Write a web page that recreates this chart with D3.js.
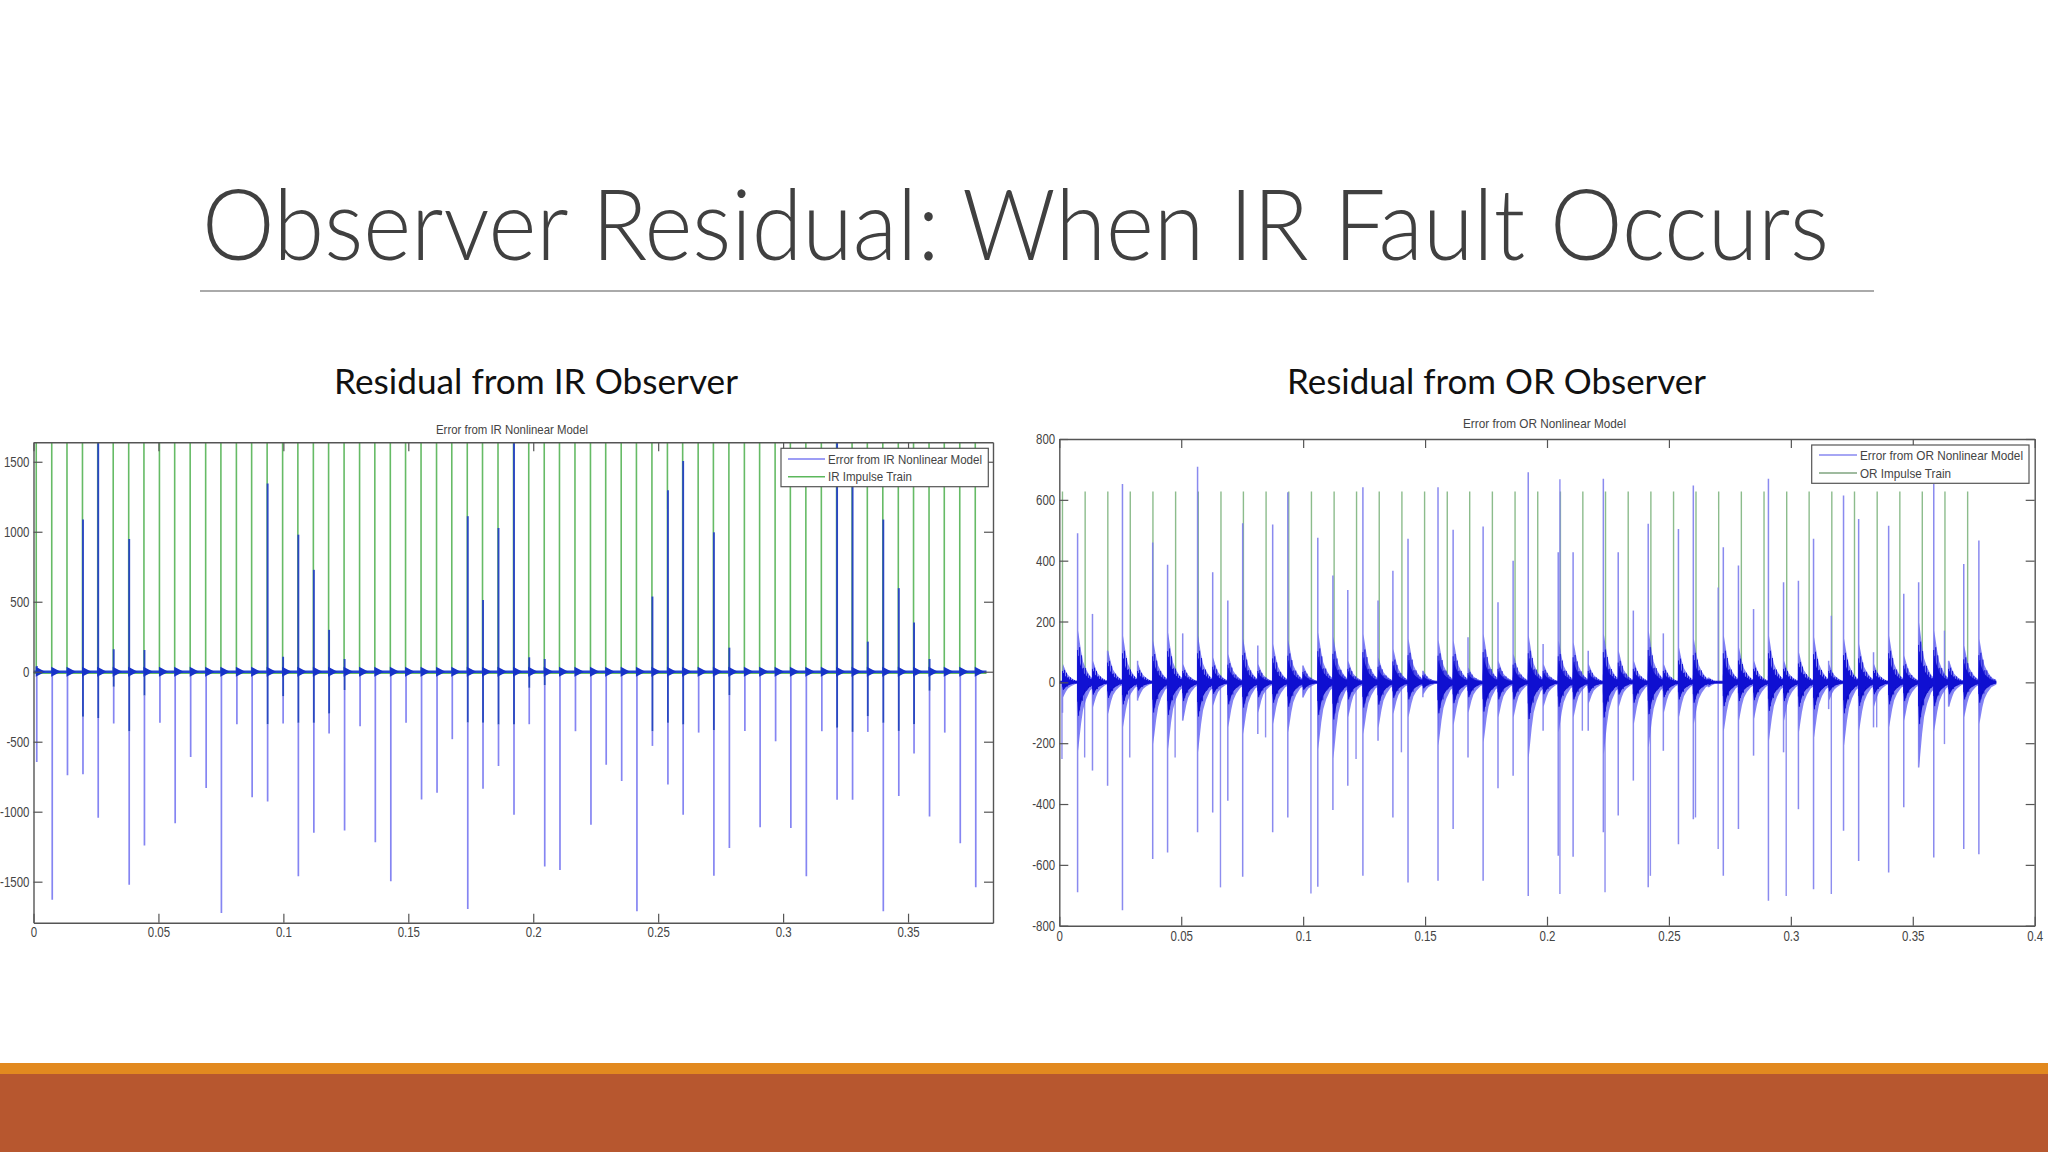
<!DOCTYPE html>
<html><head><meta charset="utf-8">
<script src="https://cdn.jsdelivr.net/npm/d3@7"></script>
<style>body{margin:0;background:#fff}svg{display:block}</style>
</head><body>
<svg id="s" width="2048" height="1152"></svg>
<script>
// ---------- DATA ----------
// IR fault impulse instants (s) – shared by both residual signals
const irTimes = [0.0011,0.0073,0.0134,0.0196,0.0257,0.0319,0.0381,0.0442,0.0504,0.0565,
0.0627,0.0689,0.0750,0.0812,0.0873,0.0935,0.0997,0.1058,0.1120,0.1181,
0.1243,0.1305,0.1366,0.1428,0.1489,0.1551,0.1613,0.1674,0.1736,0.1797,
0.1859,0.1921,0.1982,0.2044,0.2105,0.2167,0.2229,0.2290,0.2352,0.2413,
0.2475,0.2537,0.2598,0.2660,0.2721,0.2783,0.2845,0.2906,0.2968,0.3029,
0.3091,0.3153,0.3214,0.3276,0.3337,0.3399,0.3461,0.3522,0.3584,0.3645,
0.3707,0.3769];
const irImpulseHeight = 2000;
// Left: error from IR nonlinear model at each impulse
const irErrMax = [40,0,0,1087,1700,160,948,155,0,0,0,0,0,0,0,1345,107,979,728,299,
91,0,0,0,0,0,0,0,1111,513,1027,1700,103,91,0,0,0,0,0,0,
537,1297,1505,0,996,172,0,0,0,0,0,0,1700,1337,215,1087,597,351,91,0,0,0];
const irErrDarkMin = [0,0,0,-322,-330,-107,-425,-170,0,0,0,0,0,0,0,-375,-174,-365,-365,-299,
-131,0,0,0,0,0,0,0,-363,-365,-377,-377,-115,-96,0,0,0,0,0,0,
-425,-365,-377,0,-418,-167,0,0,0,0,0,0,-400,-430,-318,-365,-423,-375,-136,0,0,0];
const irErrMin = [-645,-1629,-740,-733,-1044,-370,-1521,-1242,-365,-1082,-609,-831,-1724,-375,-896,-927,-370,-1462,-1151,-442,
-1134,-389,-1218,-1497,-365,-912,-865,-482,-1696,-836,-673,-1022,-375,-1392,-1416,-425,-1094,-664,-781,-1712,
-530,-805,-1022,-435,-1457,-1259,-423,-1111,-497,-1116,-1462,-425,-915,-915,-430,-1712,-888,-585,-1034,-435,-1225,-1540];
const signalEnd = 0.3814;

// Right: OR impulse train
const orTimes = [0.0013,0.0106,0.0199,0.0291,0.0384,0.0477,0.0570,0.0663,0.0755,0.0848,
0.0941,0.1034,0.1127,0.1219,0.1312,0.1405,0.1498,0.1591,0.1683,0.1776,
0.1869,0.1962,0.2055,0.2147,0.2240,0.2333,0.2426,0.2519,0.2611,0.2704,
0.2797,0.2890,0.2983,0.3075,0.3168,0.3261,0.3354,0.3447,0.3539,0.3632,0.3725];
const orImpulseHeight = 627;
const orSpikeUp = [0,0,0,0,0,0,0,0,0,0,0,0,0,0,0,0,0,0,0,0,0,0,668,0,0,0,0,0,0,312,0,0,0,0,219,0,0,0,0,170,0];
const orSpikeDn = [-252,-247,0,-247,0,-247,0,-674,0,-181,0,-694,0,-252,0,-230,0,0,0,0,0,0,-696,-159,-690,0,-636,0,-444,-548,0,0,-702,0,-696,0,-148,0,0,-203,0];
// Right: error from OR nonlinear model, bursts at IR instants
const orBurstUp = [0,490,225,104,652,71,460,387,161,709,362,269,523,121,519,625,55,475,351,304,
641,269,367,472,38,641,502,148,512,263,400,691,126,428,428,104,669,428,236,521,
161,504,647,16,444,384,241,669,329,334,472,71,614,537,99,515,291,329,652,71,389,466];
const orBurstEnvUp = [60,170,71,104,153,60,137,164,60,153,82,93,143,60,126,140,55,164,150,71,
159,82,110,143,38,140,137,49,159,71,93,153,60,137,132,60,159,104,71,170,
60,115,143,16,153,115,71,153,71,99,148,60,143,126,60,153,88,197,170,71,121,143];
const orBurstEnvDn = [-50,-225,-82,-104,-148,-55,-203,-219,-126,-230,-77,-148,-170,-100,-137,-164,-50,-219,-250,-115,
-170,-150,-104,-115,-40,-208,-140,-100,-197,-115,-115,-247,-80,-164,-115,-70,-236,-82,-137,-214,
-100,-115,-137,-16,-160,-126,-120,-192,-126,-164,-181,-60,-208,-159,-80,-148,-126,-280,-160,-80,-115,-137];
const orBurstDn = [-100,-690,-290,-340,-749,-60,-581,-559,-126,-493,-428,-389,-639,-170,-493,-444,-50,-672,-420,-340,
-636,-192,-444,-658,-49,-652,-482,-247,-652,-348,-307,-702,-159,-570,-573,-159,-493,-438,-323,-674,
-225,-532,-450,-16,-636,-482,-241,-718,-230,-417,-680,-88,-488,-587,-148,-625,-411,-280,-576,-80,-548,-565];

const leftXTicks = [0,0.05,0.1,0.15,0.2,0.25,0.3,0.35];
const leftYTicks = [-1500,-1000,-500,0,500,1000,1500];
const rightXTicks = [0,0.05,0.1,0.15,0.2,0.25,0.3,0.35,0.4];
const rightYTicks = [-800,-600,-400,-200,0,200,400,600,800];

// ---------- DRAW ----------
const svg = d3.select("#s");
const FONT = "'Liberation Sans', Arial, sans-serif";

// slide title
svg.append("text").attr("x",202).attr("y",260)
  .attr("font-family","Lato, 'Open Sans', sans-serif").attr("font-weight",300)
  .attr("font-size",98).attr("fill","#404040")
  .attr("textLength",1627).attr("lengthAdjust","spacingAndGlyphs")
  .text("Observer Residual: When IR Fault Occurs");
svg.append("line").attr("x1",200).attr("x2",1874).attr("y1",291).attr("y2",291)
  .attr("stroke","#aaaaaa").attr("stroke-width",2);

svg.append("text").attr("x",334).attr("y",394).attr("font-family","Lato, 'Open Sans', sans-serif")
  .attr("font-size",35).attr("fill","#111").attr("textLength",404).attr("lengthAdjust","spacingAndGlyphs")
  .text("Residual from IR Observer");
svg.append("text").attr("x",1287).attr("y",394).attr("font-family","Lato, 'Open Sans', sans-serif")
  .attr("font-size",35).attr("fill","#111").attr("textLength",419).attr("lengthAdjust","spacingAndGlyphs")
  .text("Residual from OR Observer");

// bottom bars
svg.append("rect").attr("x",0).attr("y",1063).attr("width",2048).attr("height",11).attr("fill","#E2891F");
svg.append("rect").attr("x",0).attr("y",1074).attr("width",2048).attr("height",78).attr("fill","#B7572F");

function frame(g, x, y, xTicks, yTicks, padX, padY) {
  const [x0,x1] = x.range(); const [y0,y1] = y.range();
  const axes = [];
  axes.push(g.append("g").attr("transform",`translate(0,${y0})`)
    .call(d3.axisBottom(x).tickValues(xTicks).tickSize(-9).tickSizeOuter(0).tickPadding(padX).tickFormat(d=>String(d))));
  axes.push(g.append("g").attr("transform",`translate(0,${y1})`)
    .call(d3.axisTop(x).tickValues(xTicks).tickSize(-9).tickSizeOuter(0).tickFormat("")));
  axes.push(g.append("g").attr("transform",`translate(${x0},0)`)
    .call(d3.axisLeft(y).tickValues(yTicks).tickSize(-9).tickSizeOuter(0).tickPadding(padY).tickFormat(d=>String(d))));
  axes.push(g.append("g").attr("transform",`translate(${x1},0)`)
    .call(d3.axisRight(y).tickValues(yTicks).tickSize(-9).tickSizeOuter(0).tickFormat("")));
  axes.forEach(a=>{
    a.selectAll(".domain").attr("stroke","#555").attr("stroke-width",1.4);
    a.selectAll(".tick line").attr("stroke","#555").attr("stroke-width",1.2);
    a.selectAll(".tick text").attr("font-family",FONT).attr("font-size",14).attr("fill","#444")
      .attr("transform","scale(0.82,1)");
  });
}

function legend(g, bx, by, bw, bh, items, textX, lx0, lx1) {
  g.append("rect").attr("x",bx).attr("y",by).attr("width",bw).attr("height",bh)
    .attr("fill","#fff").attr("stroke","#555").attr("stroke-width",1.2);
  items.forEach(it=>{
    g.append("line").attr("x1",lx0).attr("x2",lx1).attr("y1",it.y).attr("y2",it.y)
      .attr("stroke",it.color).attr("stroke-width",1.6);
    g.append("text").attr("x",textX).attr("y",it.y+4.5).attr("font-family",FONT).attr("font-size",13)
      .attr("fill","#444").attr("textLength",it.w).attr("lengthAdjust","spacingAndGlyphs").text(it.label);
  });
}

// ===== LEFT CHART =====
const xL = d3.scaleLinear().domain([0,0.384]).range([33.5,993]);
const yL = d3.scaleLinear().domain([-1793,1639]).range([922.7,442.3]);
const defs = svg.append("defs");
defs.append("clipPath").attr("id","clipL").append("rect")
  .attr("x",33.5).attr("y",442.3).attr("width",993-33.5).attr("height",922.7-442.3);
defs.append("clipPath").attr("id","clipR").append("rect")
  .attr("x",1059.3).attr("y",439).attr("width",2034.7-1059.3).attr("height",925.7-439);

const gL = svg.append("g");
gL.append("text").attr("x",436).attr("y",433.5).attr("font-family",FONT).attr("font-size",13)
  .attr("fill","#444").attr("textLength",152).attr("lengthAdjust","spacingAndGlyphs")
  .text("Error from IR Nonlinear Model");
const pL = gL.append("g").attr("clip-path","url(#clipL)");
pL.selectAll(".gi").data(irTimes).join("line")
  .attr("x1",d=>xL(d)).attr("x2",d=>xL(d)).attr("y1",yL(0)).attr("y2",yL(irImpulseHeight))
  .attr("stroke","#66bb66").attr("stroke-width",1.6);
pL.append("line").attr("x1",xL(0)).attr("x2",xL(signalEnd)).attr("y1",yL(0)+1.5).attr("y2",yL(0)+1.5)
  .attr("stroke","#66bb66").attr("stroke-width",1.5);
pL.selectAll(".lb").data(irTimes).join("line")
  .attr("x1",(d)=>xL(d)+0.5).attr("x2",(d)=>xL(d)+0.5)
  .attr("y1",(d,i)=>yL(irErrDarkMin[i])).attr("y2",(d,i)=>yL(irErrMin[i]))
  .attr("stroke","#8585f2").attr("stroke-width",1.7);
pL.selectAll(".db").data(irTimes.map((t,i)=>i).filter(i=>irErrMax[i]>0)).join("line")
  .attr("x1",i=>xL(irTimes[i])+0.5).attr("x2",i=>xL(irTimes[i])+0.5)
  .attr("y1",i=>yL(irErrDarkMin[i])).attr("y2",i=>yL(irErrMax[i]))
  .attr("stroke","#2a47c2").attr("stroke-width",1.9);
pL.append("line").attr("x1",xL(0)).attr("x2",xL(signalEnd)).attr("y1",yL(0)).attr("y2",yL(0))
  .attr("stroke","#2446d0").attr("stroke-width",2.6);
pL.selectAll(".tr").data(irTimes).join("path")
  .attr("d",d=>{const x=xL(d), y=yL(0); return `M${x-0.5},${y-5}L${x-0.5},${y+5}L${x+9},${y}Z`;})
  .attr("fill","#1733c8");
frame(gL, xL, yL, leftXTicks, leftYTicks, 4.5, 5);
legend(gL, 781, 448.3, 207.3, 38.4, [
  {y:459, color:"#7c7cf2", label:"Error from IR Nonlinear Model", w:154},
  {y:476.7, color:"#5cb85c", label:"IR Impulse Train", w:84}], 828, 788, 825);

// ===== RIGHT CHART =====
const xR = d3.scaleLinear().domain([0,0.4]).range([1059.3,2034.7]);
const yR = d3.scaleLinear().domain([-800,800]).range([925.7,439]);
const gR = svg.append("g");
gR.append("text").attr("x",1463).attr("y",427.5).attr("font-family",FONT).attr("font-size",13)
  .attr("fill","#444").attr("textLength",163).attr("lengthAdjust","spacingAndGlyphs")
  .text("Error from OR Nonlinear Model");
const pR = gR.append("g").attr("clip-path","url(#clipR)");
pR.selectAll(".go").data(orTimes).join("line")
  .attr("x1",d=>xR(d)).attr("x2",d=>xR(d)).attr("y1",yR(0)).attr("y2",yR(orImpulseHeight))
  .attr("stroke","#8cbc8c").attr("stroke-width",1.4);
pR.selectAll(".os").data(orTimes.map((t,i)=>i).filter(i=>orSpikeDn[i]<0||orSpikeUp[i]>0)).join("line")
  .attr("x1",i=>xR(orTimes[i])-0.5).attr("x2",i=>xR(orTimes[i])-0.5)
  .attr("y1",i=>yR(orSpikeUp[i])).attr("y2",i=>yR(orSpikeDn[i]))
  .attr("stroke","#8282ee").attr("stroke-width",1.4).attr("opacity",0.9);
pR.selectAll(".bs").data(irTimes).join("line")
  .attr("x1",d=>xR(d)+0.5).attr("x2",d=>xR(d)+0.5)
  .attr("y1",(d,i)=>yR(orBurstUp[i])).attr("y2",(d,i)=>yR(orBurstDn[i]))
  .attr("stroke","#7e7eee").attr("stroke-width",1.5).attr("opacity",0.9);
// burst envelopes (decaying ringing drawn as soft outer area + jagged hairlines)
const kernelDx = [0,1,2.5,4,6,9,13,18];
const kernelF  = [0.25,1,0.8,0.6,0.4,0.25,0.12,0.05];
const kernel = d3.scaleLinear().domain(kernelDx).range(kernelF).clamp(true);
const ringStep = [1,0.55,0.85,0.45,0.95,0.6,0.75,0.4];
const area = d3.area().x(p=>p.x).y0(p=>p.dn).y1(p=>p.up);
function burstPts(i, s) {
  const x0 = xR(irTimes[i]);
  return kernelDx.map((dx,j)=>({x:x0+dx, up:yR(orBurstEnvUp[i]*kernelF[j]*s), dn:yR(orBurstEnvDn[i]*kernelF[j]*s)}));
}
pR.append("line").attr("x1",xR(0)).attr("x2",xR(signalEnd)).attr("y1",yR(0)).attr("y2",yR(0))
  .attr("stroke","#1a1ac8").attr("stroke-width",3);
pR.selectAll(".be").data(irTimes.map((t,i)=>i)).join("path")
  .attr("d",i=>area(burstPts(i,1))).attr("fill","#5a5af0").attr("opacity",0.75);
pR.selectAll(".bi").data(irTimes.map((t,i)=>i)).join("path")
  .attr("d",i=>area(burstPts(i,0.5))).attr("fill","#0c0cc4");
const ringG = pR.append("g").attr("stroke","#1212d4").attr("stroke-width",1);
irTimes.forEach((t,i)=>{
  const x0 = xR(t);
  d3.range(0,17).forEach(dx=>{
    const f = kernel(dx+0.5)*ringStep[dx%ringStep.length];
    ringG.append("line").attr("x1",x0+dx+0.5).attr("x2",x0+dx+0.5)
      .attr("y1",yR(orBurstEnvUp[i]*f)).attr("y2",yR(orBurstEnvDn[i]*f*ringStep[(dx+3)%ringStep.length]));
  });
});
frame(gR, xR, yR, rightXTicks, rightYTicks, 5.5, 5);
legend(gR, 1811.7, 445, 217.3, 38.3, [
  {y:455, color:"#8888f0", label:"Error from OR Nonlinear Model", w:163},
  {y:473, color:"#7fa57f", label:"OR Impulse Train", w:91}], 1860, 1819, 1857);
</script>
</body></html>
